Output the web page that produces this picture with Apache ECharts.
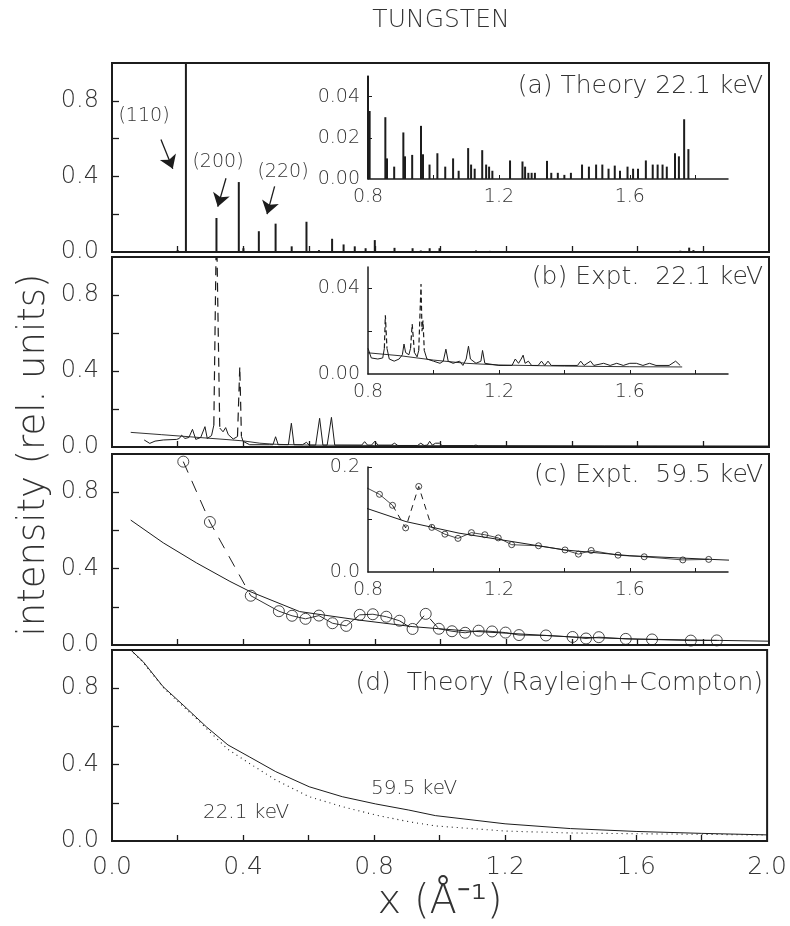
<!DOCTYPE html>
<html>
<head>
<meta charset="utf-8">
<script src="https://cdn.jsdelivr.net/npm/echarts@6/dist/echarts.min.js"></script>
<style>
html,body{margin:0;background:#fff}
#chart{width:790px;height:926px}
</style>
</head>
<body>
<div id="chart"></div>
<script>
// (a) theory 22.1 keV - Bragg peak positions and heights
let aPeakX = [0.20,0.225,0.318,0.386,0.40,0.447,0.498,0.547,0.592,0.63,0.67,0.705,0.739,0.772,0.80,0.86,0.915,0.94,0.967,0.997,1.02,1.108,1.15,1.73,1.757,1.77]
let aPeakY = [0.01,1.0,0.18,0.37,0.02,0.11,0.15,0.03,0.16,0.01,0.07,0.04,0.03,0.02,0.063,0.022,0.02,0.008,0.02,0.02,0.005,0.008,0.006,0.007,0.023,0.01]
// (a) inset, 0.8 - 1.9
let aInsX = [0.80,0.805,0.853,0.858,0.88,0.908,0.913,0.935,0.962,0.968,0.988,1.012,1.036,1.06,1.077,1.106,1.115,1.126,1.149,1.161,1.17,1.18,1.234,1.272,1.28,1.29,1.30,1.31,1.347,1.36,1.38,1.40,1.42,1.454,1.475,1.497,1.516,1.535,1.554,1.57,1.593,1.61,1.625,1.649,1.67,1.685,1.70,1.713,1.738,1.75,1.766,1.779]
let aInsY = [0.050,0.033,0.030,0.010,0.006,0.0226,0.011,0.0117,0.0258,0.012,0.007,0.0125,0.006,0.010,0.004,0.015,0.007,0.005,0.014,0.007,0.006,0.004,0.009,0.0085,0.006,0.003,0.003,0.003,0.0088,0.003,0.003,0.002,0.003,0.007,0.006,0.007,0.007,0.005,0.0065,0.004,0.006,0.005,0.005,0.009,0.007,0.007,0.007,0.006,0.0125,0.011,0.029,0.0145]

// (b) expt 22.1 keV (null = break, the big peaks are in bPeaks, drawn dashed)
let bExpt = [[0.098,0.037],[0.115,0.019],[0.131,0.031],[0.156,0.037],[0.197,0.04],[0.205,0.045],[0.212,0.062],[0.222,0.045],[0.234,0.05],[0.245,0.093],[0.255,0.04],[0.27,0.05],[0.283,0.107],[0.29,0.045],[0.303,0.06],[0.31,0.115],null,
  [0.328,0.10],[0.338,0.08],[0.346,0.102],[0.354,0.065],[0.369,0.042],[0.382,0.055],null,
  [0.394,0.056],[0.399,0.03],[0.419,0.012],[0.48,0.012],[0.49,0.012],[0.498,0.054],[0.506,0.012],[0.537,0.012],[0.546,0.125],[0.554,0.012],[0.58,0.012],[0.592,0.025],[0.6,0.01],[0.62,0.01],[0.632,0.151],[0.642,0.01],[0.655,0.01],[0.668,0.156],[0.678,0.01],
  [0.76,0.01],[0.769,0.028],[0.778,0.01],[0.79,0.01],[0.80,0.03],[0.81,0.01],[0.85,0.01],[0.86,0.02],[0.87,0.008],[0.93,0.008],[0.94,0.02],[0.95,0.008],[0.96,0.01],[0.967,0.03],[0.975,0.01],[0.985,0.02],[0.997,0.02],[1.005,0.007],[1.1,0.007],[1.108,0.01],[1.115,0.006],[1.5,0.005],[2.0,0.004]]
let bPeaks = [[0.31,0.115],[0.318,1.2],[0.328,0.10],null,[0.382,0.055],[0.389,0.423],[0.394,0.056]]
let bBackground = [[0.057,0.077],[0.15,0.065],[0.25,0.052],[0.35,0.039],[0.40,0.032],[0.45,0.02],[0.5,0.014],[0.6,0.01],[0.8,0.008],[1.0,0.007],[1.5,0.005],[2.0,0.004]]
// (b) inset
let bInsExpt = [[0.80,0.012],[0.81,0.0075],[0.83,0.007],[0.845,0.0075],[0.85,0.012],null,
  [0.858,0.012],[0.865,0.007],[0.88,0.006],[0.895,0.007],[0.905,0.009],[0.91,0.014],[0.915,0.010],[0.925,0.009],[0.93,0.012],null,
  [0.942,0.010],[0.95,0.008],[0.955,0.011],null,
  [0.972,0.011],[0.98,0.007],[1.0,0.006],[1.02,0.005],[1.03,0.006],[1.038,0.0116],[1.045,0.006],[1.06,0.005],[1.08,0.006],[1.09,0.004],[1.10,0.007],[1.107,0.013],[1.113,0.007],[1.13,0.005],[1.145,0.006],[1.15,0.011],[1.157,0.005],
  [1.2,0.004],[1.24,0.004],[1.25,0.007],[1.26,0.005],[1.268,0.007],[1.274,0.0088],[1.28,0.005],[1.29,0.006],[1.30,0.004],[1.32,0.004],[1.33,0.006],[1.34,0.004],[1.35,0.006],[1.36,0.004],
  [1.44,0.004],[1.45,0.006],[1.46,0.004],[1.48,0.006],[1.49,0.004],[1.52,0.005],[1.54,0.004],[1.56,0.005],[1.58,0.004],[1.60,0.005],[1.62,0.005],[1.64,0.004],[1.66,0.005],[1.68,0.004],[1.72,0.004],[1.74,0.006],[1.754,0.004]]
let bInsPeaks = [[0.85,0.012],[0.853,0.0274],[0.858,0.012],null,[0.93,0.012],[0.935,0.0233],[0.942,0.010],null,[0.955,0.011],[0.962,0.042],[0.965,0.02],[0.968,0.025],[0.972,0.011]]
let bInsBackground = [[0.8,0.0099],[0.9,0.0085],[1.0,0.0065],[1.1,0.005],[1.2,0.0042],[1.4,0.0037],[1.6,0.0034],[1.76,0.0033]]

// (c) expt 59.5 keV
let cX = [0.217,0.298,0.4225,0.508,0.548,0.589,0.63,0.671,0.713,0.754,0.794,0.835,0.875,0.915,0.955,0.995,1.035,1.075,1.116,1.157,1.198,1.239,1.321,1.402,1.443,1.482,1.564,1.644,1.762,1.841]
let cY = [0.96,0.644,0.258,0.177,0.153,0.137,0.154,0.114,0.10,0.158,0.161,0.148,0.127,0.084,0.163,0.085,0.072,0.064,0.075,0.071,0.065,0.052,0.05,0.042,0.034,0.041,0.032,0.029,0.023,0.024]
// index ranges joined by a dashed line / a solid line
let cDashedRanges = [[0,2],[12,15]]
let cSolidRanges = [[2,12],[15,29]]
let cTheory = [[0.057,0.654],[0.156,0.535],[0.257,0.43],[0.359,0.333],[0.42,0.28],[0.571,0.175],[0.754,0.13],[0.916,0.096],[1.078,0.074],[1.2,0.062],[1.4,0.042],[1.6,0.031],[1.85,0.024],[2.0,0.02]]

// (d) theory Rayleigh + Compton
let d595 = [[0.045,1.02],[0.095,0.939],[0.156,0.808],[0.217,0.712],[0.288,0.598],[0.354,0.503],[0.419,0.441],[0.5,0.363],[0.602,0.284],[0.703,0.232],[0.805,0.194],[0.906,0.162],[0.987,0.133],[1.2,0.09],[1.4,0.065],[1.6,0.05],[1.8,0.04],[2.0,0.032]]
let d221 = [[0.045,1.02],[0.095,0.935],[0.156,0.805],[0.196,0.738],[0.262,0.634],[0.298,0.572],[0.354,0.48],[0.419,0.407],[0.5,0.319],[0.602,0.232],[0.703,0.18],[0.805,0.136],[0.906,0.101],[0.987,0.079],[1.2,0.052],[1.4,0.042],[1.6,0.038],[1.8,0.035],[2.0,0.031]]

// ticks
let mainXTicks = [0.2,0.4,0.6,0.8,1.0,1.2,1.4,1.6,1.8]
let mainXLabels = [0,0.4,0.8,1.2,1.6,2.0]
let mainYTicks = [0.2,0.4,0.6,0.8]
let mainYLabels = [0,0.4,0.8]
let insXTicks = [1.0,1.2,1.4,1.6,1.8]
let insXLabels = [0.8,1.2,1.6]

const FONT = 'DejaVu Sans'
const W = 200
const ink = '#1c1c1c'
const textInk = '#333'

function gap(arr) { return arr.map(p => p ? p : '-') }
function cRange(r) {
	let out = []
	for (let i = r[0]; i <= r[1]; i++) out.push([cX[i], cY[i]])
	return out
}
function cJoin(ranges) {
	let out = []
	ranges.forEach((r, k) => {
		if (k > 0) out.push('-')
		out = out.concat(cRange(r))
	})
	return out
}

function mainX(i, labels) {
	return {
		type:'value', gridIndex:i, min:0, max:2,
		axisLine:{show:false}, splitLine:{show:false},
		axisTick:{inside:true, length:6, customValues:mainXTicks, lineStyle:{color:ink, width:1.3}},
		axisLabel:{show:labels, customValues:mainXLabels, formatter:v => v.toFixed(1),
			margin:14, fontSize:25, color:textInk, fontFamily:FONT, fontWeight:W}
	}
}
function mainY(i) {
	return {
		type:'value', gridIndex:i, min:0, max:1,
		axisLine:{show:false}, splitLine:{show:false},
		axisTick:{inside:true, length:7, customValues:mainYTicks, lineStyle:{color:ink, width:1.3}},
		axisLabel:{customValues:mainYLabels, formatter:v => v.toFixed(1),
			margin:13, fontSize:24, color:textInk, fontFamily:FONT, fontWeight:W}
	}
}
function insX(i) {
	return {
		type:'value', gridIndex:i, min:0.8, max:1.9,
		axisLine:{show:true, onZero:false, lineStyle:{color:ink, width:1.5}}, splitLine:{show:false},
		axisTick:{inside:true, length:4, customValues:insXTicks, lineStyle:{color:ink}},
		axisLabel:{customValues:insXLabels, formatter:v => v.toFixed(1),
			margin:9, fontSize:19, color:textInk, fontFamily:FONT, fontWeight:W}
	}
}
function insY(i, max, ticks, labels, digits) {
	return {
		type:'value', gridIndex:i, min:0, max:max,
		axisLine:{show:true, onZero:false, lineStyle:{color:ink, width:1.5}}, splitLine:{show:false},
		axisTick:{inside:true, length:4, customValues:ticks, lineStyle:{color:ink}},
		axisLabel:{customValues:labels, formatter:v => v.toFixed(digits),
			margin:8, fontSize:19, color:textInk, fontFamily:FONT, fontWeight:W}
	}
}
function line(xi, data, opts) {
	return Object.assign({
		type:'line', xAxisIndex:xi, yAxisIndex:xi, data:data, showSymbol:false,
		silent:true, connectNulls:false, lineStyle:{color:ink, width:1}
	}, opts || {})
}

let frame = {show:true, borderColor:ink, borderWidth:2, backgroundColor:'transparent'}
let txt = (x, y, s, size, align) => ({
	type:'text', x:x, y:y, silent:true,
	style:{text:s, fontSize:size, fontFamily:FONT, fontWeight:W, fill:textInk, align:align || 'center', verticalAlign:'middle'}
})

let chart = echarts.init(document.getElementById('chart'))
let option = {
	animation:false,
	backgroundColor:'#fff',
	grid:[
		Object.assign({left:112, top:63, width:657, height:189}, frame),
		Object.assign({left:112, top:257, width:657, height:190}, frame),
		Object.assign({left:112, top:454, width:657, height:191}, frame),
		Object.assign({left:112, top:650, width:657, height:191}, frame),
		{left:368, top:76, width:360, height:103},
		{left:368, top:267, width:360, height:107},
		{left:368, top:467, width:360, height:105}
	],
	xAxis:[mainX(0,false), mainX(1,false), mainX(2,false), mainX(3,true), insX(4), insX(5), insX(6)],
	yAxis:[mainY(0), mainY(1), mainY(2), mainY(3),
		insY(4, 0.05, [0.02,0.04], [0,0.02,0.04], 2),
		insY(5, 0.05, [0.02,0.04], [0,0.04], 2),
		insY(6, 0.2, [0.1,0.2], [0,0.2], 1)],
	series:[
		{type:'bar', xAxisIndex:0, yAxisIndex:0, barWidth:2, silent:true,
			data:aPeakX.map((x,i) => [x, aPeakY[i]]), itemStyle:{color:ink},
			markLine:{silent:true, symbol:['none','arrow'], symbolSize:13,
				lineStyle:{color:ink, width:1.3, type:'solid'}, itemStyle:{color:ink}, label:{show:false},
				emphasis:{disabled:true},
				data:[
					[{coord:[0.149,0.595]},{coord:[0.185,0.44]}],
					[{coord:[0.347,0.39]},{coord:[0.322,0.24]}],
					[{coord:[0.495,0.347]},{coord:[0.472,0.20]}]
				]}},
		{type:'bar', xAxisIndex:4, yAxisIndex:4, barWidth:2, silent:true,
			data:aInsX.map((x,i) => [x, aInsY[i]]), itemStyle:{color:ink}},

		line(1, bBackground, {lineStyle:{color:ink, width:0.9}}),
		line(1, gap(bExpt)),
		line(1, gap(bPeaks), {lineStyle:{color:ink, width:1.2, type:[9,6]}}),
		line(5, bInsBackground, {lineStyle:{color:ink, width:0.9}}),
		line(5, gap(bInsExpt)),
		line(5, gap(bInsPeaks), {lineStyle:{color:ink, width:1.2, type:[5,3]}}),

		line(2, cTheory),
		line(2, cJoin(cSolidRanges), {lineStyle:{color:ink, width:0.9}}),
		line(2, cJoin(cDashedRanges), {lineStyle:{color:ink, width:1, type:[12,9]}}),
		{type:'scatter', xAxisIndex:2, yAxisIndex:2, silent:true, symbol:'circle', symbolSize:11,
			data:cX.map((x,i) => [x, cY[i]]), itemStyle:{color:'rgba(255,255,255,0)', borderColor:ink, borderWidth:1}},
		line(6, cTheory),
		line(6, cJoin(cSolidRanges), {lineStyle:{color:ink, width:0.8}}),
		line(6, cJoin(cDashedRanges), {lineStyle:{color:ink, width:1, type:[6,5]}}),
		{type:'scatter', xAxisIndex:6, yAxisIndex:6, silent:true, symbol:'circle', symbolSize:6,
			data:cX.map((x,i) => [x, cY[i]]).filter(p => p[0] >= 0.8), itemStyle:{color:'#fff', borderColor:ink, borderWidth:1}},

		line(3, d595, {lineStyle:{color:ink, width:1}}),
		line(3, d221, {lineStyle:{color:ink, width:1.1, type:[1,4]}})
	],
	graphic:[
		txt(441, 20, 'TUNGSTEN', 25),
		txt(763, 86, '(a) Theory 22.1 keV', 25, 'right'),
		txt(763, 277, '(b) Expt.  22.1 keV', 25, 'right'),
		txt(763, 475, '(c) Expt.  59.5 keV', 25, 'right'),
		txt(763, 683, '(d)  Theory (Rayleigh+Compton)', 25, 'right'),
		txt(144, 116, '(110)', 19),
		txt(218, 162, '(200)', 19),
		txt(283, 172, '(220)', 19),
		txt(414, 789, '59.5 keV', 20),
		txt(246, 813, '22.1 keV', 20),
		txt(440, 903, 'x (Å⁻¹)', 40),
		{type:'text', x:34, y:455, rotation:Math.PI/2, silent:true,
			style:{text:'intensity (rel. units)', fontSize:37, fontFamily:FONT, fontWeight:W, fill:textInk, align:'center', verticalAlign:'middle'}}
	]
}
chart.setOption(option)
</script>
</body>
</html>
